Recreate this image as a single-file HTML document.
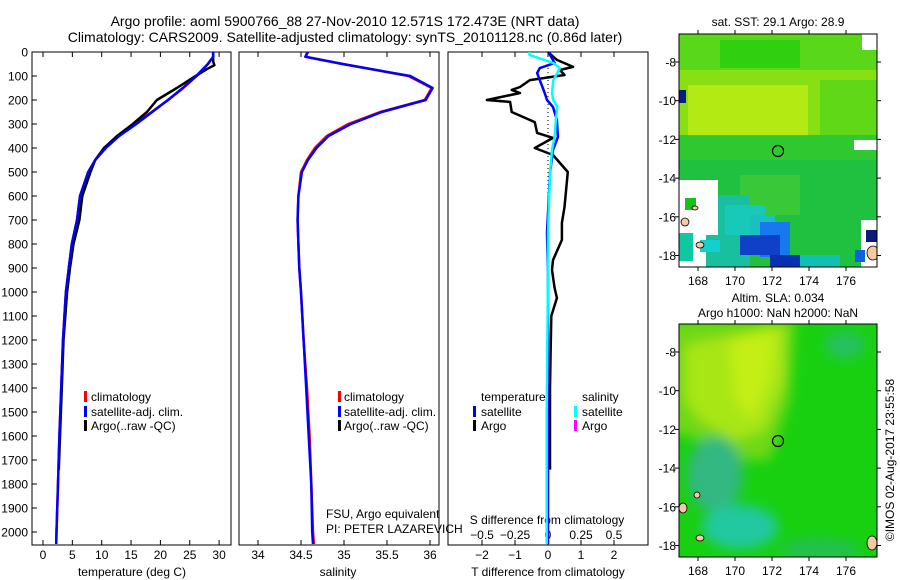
<!DOCTYPE html>
<html><head><meta charset="utf-8"><style>
body{margin:0;background:#fff;}
svg{display:block;font-family:"Liberation Sans",sans-serif;}
text{fill:#000;}
</style></head><body>
<svg id="fig" width="900" height="580" viewBox="0 0 900 580" xmlns="http://www.w3.org/2000/svg">
<defs>
<filter id="blur6"><feGaussianBlur stdDeviation="6"/></filter>
<clipPath id="clipA"><rect x="679" y="34" width="198" height="233"/></clipPath>
<clipPath id="clipB"><rect x="679" y="324" width="198" height="233"/></clipPath>
</defs>
<text x="345" y="26" font-size="14" text-anchor="middle">Argo profile: aoml 5900766_88 27-Nov-2010 12.571S 172.473E (NRT data)</text>
<text x="345" y="42" font-size="14" text-anchor="middle">Climatology: CARS2009. Satellite-adjusted climatology: synTS_20101128.nc (0.86d later)</text>

<!-- SST map -->
<g>
<text x="778" y="26" font-size="12" text-anchor="middle">sat. SST: 29.1 Argo: 28.9</text>
<g clip-path="url(#clipA)">
<rect x="679" y="34" width="198" height="233" fill="#28c830"/>
<rect x="679" y="34" width="198" height="50" fill="#58d818"/>
<rect x="720" y="40" width="80" height="28" fill="#30d010"/>
<rect x="679" y="70" width="198" height="70" fill="#88e014"/>
<rect x="688" y="85" width="120" height="50" fill="#b4ea14"/>
<rect x="820" y="80" width="57" height="60" fill="#60d818"/>
<rect x="679" y="135" width="198" height="25" fill="#30c830"/>
<rect x="679" y="160" width="198" height="107" fill="#20c040"/>
<rect x="740" y="175" width="60" height="40" fill="#38c838"/>
<rect x="700" y="195" width="50" height="72" fill="#18c0a0"/>
<rect x="725" y="205" width="40" height="30" fill="#18c8b8"/>
<rect x="750" y="215" width="25" height="25" fill="#18c0c0"/>
<rect x="760" y="222" width="30" height="35" fill="#1878f0"/>
<rect x="740" y="235" width="40" height="20" fill="#1040c8"/>
<rect x="770" y="255" width="35" height="12" fill="#0830b0"/>
<rect x="800" y="255" width="40" height="12" fill="#10c0b0"/>
<rect x="679" y="180" width="27" height="87" fill="#ffffff"/>
<rect x="685" y="198" width="11" height="12" fill="#18c018"/>
<rect x="679" y="233" width="14" height="28" fill="#10c8a0"/>
<rect x="706" y="180" width="12" height="55" fill="#ffffff"/>
<rect x="700" y="240" width="20" height="12" fill="#10d0d0"/>
<rect x="679" y="90" width="7" height="13" fill="#0a1a80"/>
<rect x="862" y="34" width="15" height="16" fill="#ffffff"/>
<rect x="854" y="140" width="23" height="10" fill="#ffffff"/>
<rect x="861" y="220" width="16" height="47" fill="#ffffff"/>
<rect x="866" y="230" width="11" height="12" fill="#0a1a78"/>
<rect x="855" y="250" width="10" height="12" fill="#1060e0"/>
<ellipse cx="873" cy="253" rx="6" ry="7" fill="#f8c8a0" stroke="#000" stroke-width="0.8"/>
<ellipse cx="685" cy="222" rx="4" ry="4" fill="#f8c8a0" stroke="#000" stroke-width="0.8"/>
<ellipse cx="700" cy="245" rx="4" ry="3" fill="#f8c8a0" stroke="#000" stroke-width="0.8"/>
<ellipse cx="695" cy="208" rx="3" ry="2" fill="#f8c8a0" stroke="#000" stroke-width="0.8"/>
</g>
<circle cx="778" cy="151" r="5.5" fill="none" stroke="#000" stroke-width="1.2"/>
<rect x="679" y="34" width="198" height="233" fill="none" stroke="#000"/>
</g>

<!-- SLA map -->
<g>
<text x="778" y="302" font-size="12" text-anchor="middle">Altim. SLA: 0.034</text>
<text x="778" y="317" font-size="12" text-anchor="middle">Argo h1000: NaN h2000: NaN</text>
<g clip-path="url(#clipB)">
<rect x="679" y="324" width="198" height="233" fill="#18d010"/>
<g filter="url(#blur6)">
<polygon points="670,320 795,320 790,400 770,460 740,460 700,440 670,432" fill="#70d818"/>
<polygon points="685,345 785,325 785,380 765,430 735,440 700,420 685,400" fill="#a8e618"/>
<polygon points="730,340 775,330 770,380 752,420 735,400" fill="#c4ee14"/>
<ellipse cx="715" cy="475" rx="28" ry="38" fill="#30b880"/>
<ellipse cx="740" cy="527" rx="38" ry="22" fill="#20c8a0"/>
<ellipse cx="845" cy="345" rx="20" ry="14" fill="#28c060"/>
<ellipse cx="820" cy="550" rx="40" ry="12" fill="#20c050"/>
</g>
<ellipse cx="872" cy="543" rx="5" ry="7" fill="#f8c8a0" stroke="#000" stroke-width="0.8"/>
<ellipse cx="683" cy="508" rx="4" ry="5" fill="#f8c8a0" stroke="#000" stroke-width="0.8"/>
<ellipse cx="700" cy="538" rx="4" ry="3" fill="#f8c8a0" stroke="#000" stroke-width="0.8"/>
<ellipse cx="697" cy="495" rx="3" ry="3" fill="#f8c8a0" stroke="#000" stroke-width="0.8"/>
</g>
<circle cx="778" cy="441" r="5.5" fill="none" stroke="#000" stroke-width="1.2"/>
<rect x="679" y="324" width="198" height="233" fill="none" stroke="#000"/>
</g>
<text transform="translate(894,460) rotate(-90)" font-size="12" text-anchor="middle">©IMOS 02-Aug-2017 23:55:58</text>

<g id="axes"></g>
<g id="marks"></g>

<g>
<rect x="84" y="391" width="3" height="11" fill="#f00"/><text x="91" y="401" font-size="12">climatology</text>
<rect x="84" y="406" width="3" height="11" fill="#00f"/><text x="91" y="416" font-size="12">satellite-adj. clim.</text>
<rect x="84" y="420" width="3" height="11" fill="#000"/><text x="91" y="430" font-size="12">Argo(..raw -QC)</text>
</g>
<g>
<rect x="338" y="391" width="3" height="11" fill="#f00"/><text x="344" y="401" font-size="12">climatology</text>
<rect x="338" y="406" width="3" height="11" fill="#00f"/><text x="344" y="416" font-size="12">satellite-adj. clim.</text>
<rect x="338" y="420" width="3" height="11" fill="#000"/><text x="344" y="430" font-size="12">Argo(..raw -QC)</text>
</g>
<text x="326" y="518" font-size="12">FSU, Argo equivalent</text>
<text x="326" y="533" font-size="12">PI: PETER LAZAREVICH</text>
<g>
<text x="481" y="401" font-size="12">temperature</text>
<rect x="473" y="406" width="3" height="11" fill="#00f"/><text x="481" y="416" font-size="12">satellite</text>
<rect x="473" y="420" width="3" height="11" fill="#000"/><text x="481" y="430" font-size="12">Argo</text>
<text x="582" y="401" font-size="12">salinity</text>
<rect x="574" y="406" width="3" height="11" fill="#0ff"/><text x="582" y="416" font-size="12">satellite</text>
<rect x="574" y="420" width="3" height="11" fill="#f0f"/><text x="582" y="430" font-size="12">Argo</text>
</g>
</svg>
<script>
// ---- data ----
const climDepth = [0,20,50,100,150,200,250,300,350,400,450,500,600,700,800,900,1000,1200,1400,1600,1800,2000,2050];
const climTemp  = [29.0,29.0,28.1,26.2,23.9,21.3,18.5,15.7,12.8,10.6,8.9,7.7,6.3,5.8,4.9,4.4,3.9,3.4,3.1,2.8,2.55,2.3,2.25];
const satTemp   = [29.0,29.0,28.1,26.1,23.8,21.3,18.6,15.9,13.0,10.7,8.9,7.7,6.3,5.8,4.9,4.4,3.9,3.4,3.1,2.8,2.55,2.3,2.25];
const argoDepth = [0,40,55,70,100,150,200,250,300,350,400,450,500,600,700,800,900,1000,1200,1400,1600,1740];
const argoTemp  = [29.0,29.0,29.2,28.0,26.0,22.8,19.4,17.7,15.3,12.6,10.4,8.9,8.1,6.7,6.2,5.2,4.6,4.1,3.5,3.2,2.9,2.7];
const climSal   = [34.57,34.56,34.99,35.75,36.02,35.94,35.42,35.05,34.80,34.66,34.57,34.50,34.47,34.46,34.47,34.48,34.50,34.53,34.57,34.60,34.62,34.64,34.65];
const satSal    = [34.58,34.55,34.98,35.77,36.03,35.95,35.44,35.08,34.82,34.68,34.58,34.51,34.47,34.46,34.47,34.48,34.50,34.53,34.56,34.59,34.62,34.63,34.64];
const diffDepthArgo = [0,33,62,75,96,117,146,158,171,200,208,250,292,337,358,400,429,500,646,712,783,867,908,983,1025,1100,1250,1400,1600,1740];
const diffArgoT     = [0,0.27,0.76,0.36,0.5,-0.55,-0.85,-1.1,-0.85,-1.85,-1.15,-1.1,-0.4,-0.33,0.15,-0.4,0.15,0.6,0.5,0.42,0.42,0.15,0.12,0.2,0.27,0.1,0.08,0.06,0.06,0.06];
const diffDepthSat  = [0,12,46,67,88,117,171,200,229,283,354,408,504,754,921,1500,2050];
const diffSatT      = [0.05,0.06,0.2,-0.25,-0.33,-0.25,-0.1,-0.03,0.15,0.27,0.3,0.15,0.06,-0.03,0,0,0];
const diffSatS      = [-0.14,-0.14,0.04,0.09,0.07,0.04,0.03,0.04,0.07,0.06,0.05,0.03,0.015,0,0,-0.01,-0.01];
const depthTicks = [0,100,200,300,400,500,600,700,800,900,1000,1100,1200,1300,1400,1500,1600,1700,1800,1900,2000];
const tempTicks = [0,5,10,15,20,25,30];
const salTicks = [34,34.5,35,35.5,36];
const tdTicks = [-2,-1,0,1,2];
const sdTicks = [-0.5,-0.25,0,0.25,0.5];
const sdLabels = ["\u22120.5","\u22120.25","0","0.25","0.5"];
const lonTicks = [168,170,172,174,176];
const latTicks = [-8,-10,-12,-14,-16,-18];

// ---- scales ----
const TOP=52, BOT=545;
const yD = d => TOP + 0.24*d;
const xT = v => 43 + 5.87*v;
const xS = v => 258 + 86*(v-34);
const xTD = v => 548 + 33*v;
const xSD = v => 548 + 132*v;
const xLon = v => 698 + 18.5*(v-168);
const yLatA = v => 62 + 19.35*(-8 - v);
const yLatB = v => 352 + 19.35*(-8 - v);

const NS='http://www.w3.org/2000/svg';
const axes=document.getElementById('axes'), marks=document.getElementById('marks');
function mk(tag, attrs, parent){const e=document.createElementNS(NS,tag);for(const k in attrs)e.setAttribute(k,attrs[k]);parent.appendChild(e);return e;}
function txt(x,y,s,anchor,size,parent){const t=mk('text',{x:x,y:y,'font-size':size||12,'text-anchor':anchor||'middle'},parent);t.textContent=s;return t;}

const panels=[[32,231,'temperature-panel'],[239,439,'salinity-panel'],[448,648,'difference-panel']];
panels.forEach(p=>{
  const r=mk('rect',{x:p[0],y:TOP,width:p[1]-p[0],height:BOT-TOP,fill:'none',stroke:'#000'},axes);
  
  
});
depthTicks.forEach(d=>{
  mk('line',{x1:32,x2:37,y1:yD(d),y2:yD(d),stroke:'#000'},axes);
  const t=txt(28,yD(d)+4.5,String(d),'end',12,axes);
  
  
});
function xticks(ticks,fx,labels,ly,name){
  ticks.forEach((v,i)=>{
    const x=fx(v);
    mk('line',{x1:x,x2:x,y1:BOT,y2:BOT-5,stroke:'#000'},axes);
    mk('line',{x1:x,x2:x,y1:TOP,y2:TOP+5,stroke:'#000'},axes);
    if(labels){const t=txt(x,ly,labels[i],'middle',12,axes);
      
      }
  });
}
xticks(tempTicks,xT,tempTicks.map(String),559,'temperature-tick-label');
xticks(salTicks,xS,salTicks.map(String),559,'salinity-tick-label');
xticks(tdTicks,xTD,tdTicks.map(v=>v<0?'\u2212'+(-v):String(v)),559,'t-diff-tick-label');
sdTicks.forEach((v,i)=>{const t=txt(xSD(v),539,sdLabels[i],'middle',12,axes);
  
  });
let t;
t=txt(132,576,'temperature (deg C)','middle',12,axes);


t=txt(338,576,'salinity','middle',12,axes);


t=txt(548,576,'T difference from climatology','middle',12,axes);


t=txt(547,524,'S difference from climatology','middle',12,axes);


mk('line',{x1:xTD(0),x2:xTD(0),y1:TOP,y2:BOT,stroke:'#000','stroke-dasharray':'1,3'},axes);

function mapAxes(yLat,top,bottom,ly){
  lonTicks.forEach(v=>{const x=xLon(v);
    mk('line',{x1:x,x2:x,y1:bottom,y2:bottom+4,stroke:'#000'},axes);
    mk('line',{x1:x,x2:x,y1:top,y2:top-4,stroke:'#000'},axes);
    const t=txt(x,ly,String(v),'middle',12,axes);
    
    });
  latTicks.forEach(v=>{const y=yLat(v);
    mk('line',{x1:679,x2:675,y1:y,y2:y,stroke:'#000'},axes);
    mk('line',{x1:877,x2:881,y1:y,y2:y,stroke:'#000'},axes);
    const t=txt(676,y+4.5,'-'+(-v),'end',12,axes);
    
    });
}
mapAxes(yLatA,34,267,285);
mapAxes(yLatB,324,557,575);

function line(xs,ds,fx,color,name,w){
  const pts=xs.map((v,i)=>fx(v).toFixed(1)+','+yD(ds[i]).toFixed(1)).join(' ');
  const l=mk('polyline',{points:pts,fill:'none',stroke:color,'stroke-width':w||2.5,'stroke-linejoin':'round'},marks);
  
  
}
line(climTemp,climDepth,xT,'#f00','climatology-temperature-line');
line(argoTemp,argoDepth,xT,'#000','argo-temperature-line');
line(satTemp,climDepth,xT,'#00f','satellite-temperature-line');
line(climSal,climDepth,xS,'#f00','climatology-salinity-line');
line(satSal,climDepth,xS,'#00f','satellite-salinity-line');
line(diffArgoT,diffDepthArgo,xTD,'#000','argo-t-diff-line');
line(diffSatT,diffDepthSat,xTD,'#00f','satellite-t-diff-line');
line(diffSatS,diffDepthSat,xSD,'#0ff','satellite-s-diff-line');
</script>
</body></html>
